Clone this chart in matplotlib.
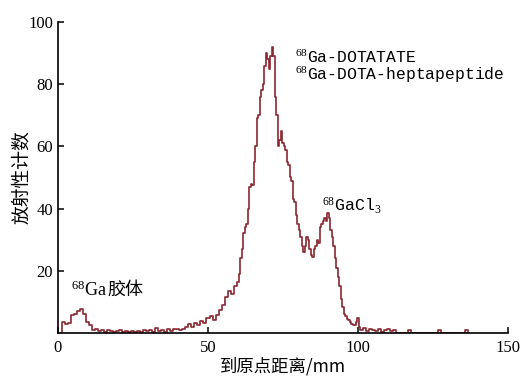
import matplotlib
matplotlib.use('Agg')
import matplotlib.pyplot as plt

plt.rcParams['font.family'] = ['Liberation Serif', 'Noto Sans CJK SC']
plt.rcParams['mathtext.fontset'] = 'custom'
plt.rcParams['mathtext.rm'] = 'Liberation Serif'
plt.rcParams['mathtext.it'] = 'Liberation Serif'

# distance (mm) and counts
dist = [1, 2, 3, 4, 5, 6, 7, 8, 9, 10, 11, 12, 13, 14, 15, 16, 17, 18, 19, 20,
        21, 22, 23, 24, 25, 26, 27, 28, 29, 30, 31, 32, 33, 34, 35, 36, 37, 38, 39, 40,
        41, 42, 43, 44, 45, 46, 47, 48, 49, 50, 51, 52, 53, 54, 55, 56, 57, 58, 59,
        60, 60.5, 61, 61.5, 62, 62.5, 63, 63.5, 64, 64.5, 65, 65.5, 66, 66.5, 67, 67.5,
        68, 68.5, 69, 69.5, 70, 70.5, 71, 71.5, 72, 72.5, 73, 73.5, 74, 74.5, 75, 75.5,
        76, 76.5, 77, 77.5, 78, 78.5, 79, 79.5, 80, 80.5, 81, 81.5, 82, 82.5, 83, 83.5,
        84, 84.5, 85, 85.5, 86, 86.5, 87, 87.5, 88, 88.5, 89, 89.5, 90, 90.5, 91, 91.5,
        92, 92.5, 93, 93.5, 94, 94.5, 95, 95.5, 96, 96.5, 97, 97.5, 98, 98.5, 99, 99.5,
        100, 100.5, 101, 102, 103, 104, 105, 106, 107, 108, 109, 110, 111, 112, 113,
        114, 116, 117, 118, 126, 127, 128, 135, 136, 137]
counts = [0, 3.5, 3, 3.2, 5.8, 6, 7, 7.8, 6, 3.5, 2.5, 1, 1.2, 0.5, 1, 0.3, 0.8, 0.6, 0.3, 0.5,
          0.8, 0.2, 0.5, 0.4, 0.7, 0.3, 0.6, 0.3, 0.8, 0.5, 0.9, 0.4, 1.5, 0.5, 0.9, 0.3, 1.2, 0.6, 1.3, 1.2,
          1.0, 1.3, 1.8, 2.8, 1.8, 3.2, 2.5, 3.8, 3.3, 4.8, 5.5, 4.2, 5.8, 7.5, 9, 11.5, 13.5, 12.5, 15,
          16.5, 19, 24, 27, 32, 34, 35, 40, 47, 48, 47.5, 55, 60, 69, 70, 76,
          78, 80, 86, 90, 88, 85, 89, 92, 89, 76, 70, 60, 62, 65, 61, 60,
          59, 55, 54, 50, 49, 43, 42, 38, 35, 33, 31, 28, 26, 28, 31, 30,
          27, 25, 24.5, 27, 28, 30, 29, 34, 35, 36, 37, 36, 38.5, 37, 33, 31,
          28, 24, 21, 18, 15, 11, 8.5, 6, 5.5, 4.5, 4.2, 3.5, 3, 2.5, 2.6, 3.5,
          4.8, 2, 1, 1.5, 0.5, 1.2, 1, 0.6, 1.2, 0.4, 1, 1.2, 0.5, 0.8, 0,
          0, 0, 0.8, 0, 0, 0.8, 0, 0, 0.8, 0]

fig = plt.figure(figsize=(5.2, 3.76), dpi=100)
ax = fig.add_axes([0.1115, 0.1144, 0.8655, 0.8271])
ax.plot(dist, counts, color='#8b2630', lw=1.2, drawstyle='steps-mid')

ax.set_xlim(0, 150)
ax.set_ylim(0, 100)
ax.set_xticks([0, 50, 100, 150])
ax.set_yticks([20, 40, 60, 80, 100])
ax.spines['top'].set_visible(False)
ax.spines['right'].set_visible(False)
for s in ['left', 'bottom']:
    ax.spines[s].set_linewidth(1.2)
ax.tick_params(direction='in', length=4, width=1.1, labelsize=12)
ax.tick_params(axis='x', pad=5)

ax.set_xlabel('到原点距离/mm', fontsize=12.5, family=['Noto Sans CJK SC'], labelpad=1)
ax.set_ylabel('放射性计数', fontsize=13.5, family=['Noto Sans CJK SC'])
ax.yaxis.set_label_coords(-0.057, 0.5)

mono = ['Liberation Mono', 'DejaVu Sans Mono']
ax.text(79, 85.6, '$^{68}$Ga-DOTATATE\n$^{68}$Ga-DOTA-heptapeptide',
        fontsize=11.8, family=mono, va='center', linespacing=0.95)
ax.text(88, 41, '$^{68}$GaCl$_3$', fontsize=12, family=mono, va='center')
t = ax.text(4.5, 13.8, '$^{68}$Ga', fontsize=13, va='center')
ax.annotate('胶体', xy=(1, 0.5), xycoords=t, fontsize=13, va='center',
            family=['Noto Sans CJK SC'])

fig.savefig('out.png', dpi=100)
